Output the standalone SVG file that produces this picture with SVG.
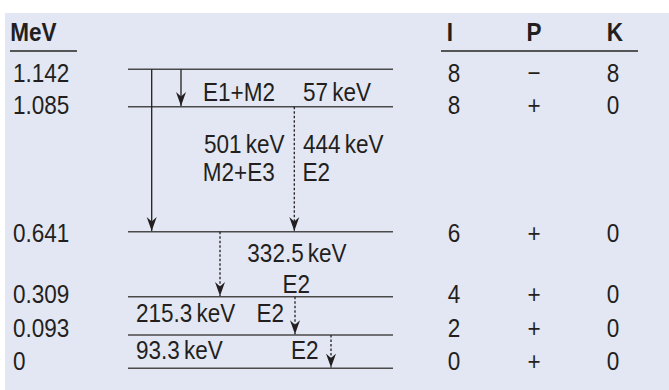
<svg xmlns="http://www.w3.org/2000/svg" width="669" height="390" viewBox="0 0 669 390">
<style>
text{font-family:"Liberation Sans",Arial,sans-serif;font-size:26.5px;fill:#231f20}
.h{font-weight:bold}
.c{text-anchor:middle}
.k{word-spacing:-2.5px}
.lvl{stroke:#4a4a4a;stroke-width:1.5;fill:none}
.rule{stroke:#555;stroke-width:2;fill:none}
.s{stroke:#231f20;stroke-width:1.3;fill:none;marker-end:url(#ah)}
.d{stroke:#231f20;stroke-width:1.3;fill:none;stroke-dasharray:2.5,2;marker-end:url(#ah)}
</style>
<defs>
<marker id="ah" markerUnits="userSpaceOnUse" markerWidth="16" markerHeight="12" viewBox="0 -6 16 12" refX="14" refY="0" orient="auto">
<path d="M0,-5 L14,0 L0,5 L4.5,0 Z" fill="#231f20"/>
</marker>
</defs>
<rect x="5" y="13" width="664" height="377" fill="#e3e7f3"/>
<g id="header">
<line class="rule" x1="10" y1="51" x2="77" y2="51"/>
<line class="rule" x1="441" y1="51" x2="638" y2="51"/>
<g transform="scale(0.85 1)">
<text class="h" x="12" y="41">MeV</text>
<text class="h c" x="529.4" y="41">I</text>
<text class="h c" x="628.2" y="41">P</text>
<text class="h c" x="723.5" y="41">K</text>
</g>
</g>
<g id="energies" transform="scale(0.85 1)">
<text x="15.3" y="82.5">1.142</text>
<text x="15.3" y="114">1.085</text>
<text x="15.3" y="241.7">0.641</text>
<text x="15.3" y="303.3">0.309</text>
<text x="15.3" y="336.7">0.093</text>
<text x="15.3" y="370">0</text>
</g>
<g id="quantum" transform="scale(0.85 1)">
<text class="c" x="534.1" y="82.5">8</text><text class="c" x="628.2" y="82.5">−</text><text class="c" x="721.2" y="82.5">8</text>
<text class="c" x="534.1" y="114">8</text><text class="c" x="628.2" y="114">+</text><text class="c" x="721.2" y="114">0</text>
<text class="c" x="534.1" y="241.7">6</text><text class="c" x="628.2" y="241.7">+</text><text class="c" x="721.2" y="241.7">0</text>
<text class="c" x="534.1" y="303.3">4</text><text class="c" x="628.2" y="303.3">+</text><text class="c" x="721.2" y="303.3">0</text>
<text class="c" x="534.1" y="336.7">2</text><text class="c" x="628.2" y="336.7">+</text><text class="c" x="721.2" y="336.7">0</text>
<text class="c" x="534.1" y="370">0</text><text class="c" x="628.2" y="370">+</text><text class="c" x="721.2" y="370">0</text>
</g>
<g id="level-1142"><line class="lvl" x1="128" y1="69.3" x2="393" y2="69.3"/></g>
<g id="level-1085"><line class="lvl" x1="128" y1="106.7" x2="393" y2="106.7"/></g>
<g id="level-0641"><line class="lvl" x1="128" y1="231.7" x2="393" y2="231.7"/></g>
<g id="level-0309"><line class="lvl" x1="128" y1="296.7" x2="393" y2="296.7"/></g>
<g id="level-0093"><line class="lvl" x1="128" y1="335" x2="393" y2="335"/></g>
<g id="level-0"><line class="lvl" x1="128" y1="368.3" x2="393" y2="368.3"/></g>
<g id="connectors">
<line class="s" x1="151.7" y1="69.3" x2="151.7" y2="231"/>
<line class="s" x1="181" y1="69.3" x2="181" y2="106"/>
<line class="d" x1="294.3" y1="106.7" x2="294.3" y2="231"/>
<line class="d" x1="220" y1="231.7" x2="220" y2="296"/>
<line class="d" x1="295" y1="296.7" x2="295" y2="334.3"/>
<line class="d" x1="331" y1="335" x2="331" y2="367.6"/>
</g>
<g id="labels" transform="scale(0.85 1)">
<text x="238.8" y="101.5">E1+M2</text>
<text class="k" x="356.5" y="101.5">57 keV</text>
<text class="k" x="240" y="153.3">501 keV</text>
<text class="k" x="356.5" y="153.3">444 keV</text>
<text x="238.5" y="181.5">M2+E3</text>
<text x="355.9" y="181.5">E2</text>
<text class="k" x="291" y="261.7">332.5 keV</text>
<text x="332.4" y="293.3">E2</text>
<text class="k" x="160" y="321.7">215.3 keV</text>
<text x="301.8" y="321.7">E2</text>
<text class="k" x="160" y="359.3">93.3 keV</text>
<text x="342.4" y="359.3">E2</text>
</g>
</svg>
